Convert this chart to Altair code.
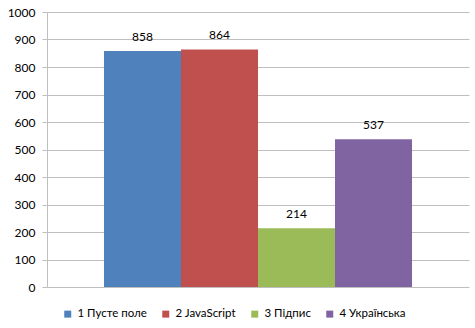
import altair as alt
import pandas as pd

series = ["1 Пусте поле", "2 JavaScript", "3 Підпис", "4 Українська"]
values = [858, 864, 214, 537]
colors = ["#4F81BD", "#C0504D", "#9BBB59", "#8064A2"]
y_ticks = list(range(0, 1001, 100))

df = pd.DataFrame({"series": series, "value": values})

FONT = "Lato"

x_enc = alt.X("series:N", axis=None, sort=series,
              scale=alt.Scale(paddingInner=0, paddingOuter=0.74))
y_enc = alt.Y("value:Q", scale=alt.Scale(domain=[0, 1000], nice=False),
              axis=alt.Axis(values=y_ticks, format="d", labelOverlap=False,
                            title=None, grid=True, gridColor="#BFBFBF",
                            domainColor="#BFBFBF", tickColor="#BFBFBF", tickSize=5,
                            labelPadding=7, labelFont=FONT, labelFontSize=12,
                            labelColor="#000000"))

bars = alt.Chart(df).mark_bar().encode(
    x=x_enc,
    y=y_enc,
    color=alt.Color("series:N", sort=series,
                    scale=alt.Scale(domain=series, range=colors),
                    legend=alt.Legend(orient="none", legendX=15, legendY=296,
                                      direction="horizontal", title=None,
                                      symbolType="square", symbolSize=49,
                                      symbolStrokeWidth=0, labelFont=FONT,
                                      labelFontSize=11.5, labelColor="#000000",
                                      columnPadding=13, labelOffset=4)),
)

labels = alt.Chart(df).mark_text(baseline="bottom", dy=-7, font=FONT, fontSize=12,
                                 color="#000000").encode(
    x=x_enc,
    y=y_enc,
    text=alt.Text("value:Q"),
)

chart = (bars + labels).properties(
    width=422, height=275,
    autosize=alt.AutoSizeParams(type="none"),
    padding={"left": 47, "top": 12, "right": 6, "bottom": 41},
).configure_view(stroke=None)

chart.save("out.html", embed_options={"renderer": "svg", "actions": False})
